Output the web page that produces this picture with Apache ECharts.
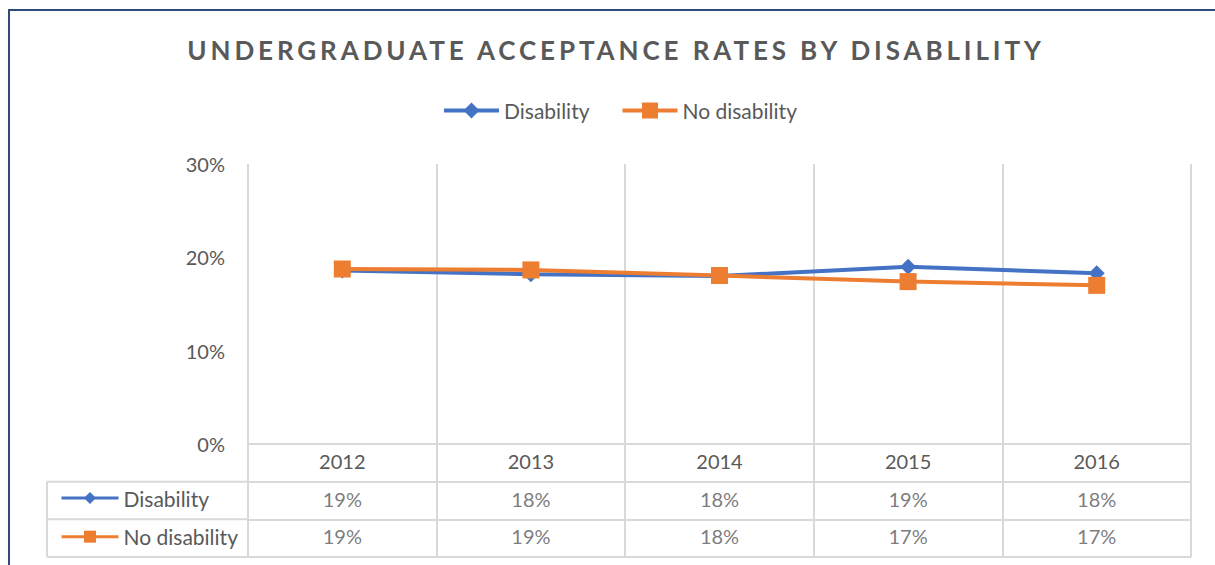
<!DOCTYPE html>
<html><head><meta charset="utf-8">
<script src="https://cdn.jsdelivr.net/npm/echarts@6/dist/echarts.min.js"></script>
<style>html,body{margin:0;padding:0;background:#fff}#chart{width:1215px;height:565px}</style>
</head><body><div id="chart"></div>
<script>
const titleText = 'UNDERGRADUATE ACCEPTANCE RATES BY DISABLILITY';
const categories = ['2012', '2013', '2014', '2015', '2016'];
const seriesNames = ['Disability', 'No disability'];
const disability = [0.186, 0.182, 0.180, 0.190, 0.183];
const noDisability = [0.1875, 0.1865, 0.1805, 0.174, 0.170];
const tableRows = ['', 'Disability', 'No disability'];

const FONT = 'Lato';
const TXT = '#595959';
const GRIDC = '#D9D9D9';
const BLUE = '#4472C4';
const ORANGE = '#ED7D31';
const gridLeft = 248, gridRight = 24, plotTop = 164, plotH = 280;
const tableTop = plotTop + plotH, tableH = 113, tableLeft = 47;
const rowH = tableH / tableRows.length;

const pct = v => Math.round(v * 100) + '%';
const values = [disability, noDisability];
const cellData = [];
seriesNames.forEach((n, s) => categories.forEach((c, i) => cellData.push([c, n, pct(values[s][i])])));

const chart = echarts.init(document.getElementById('chart'), null, {renderer: 'svg'});
const lineSt = {stroke: GRIDC, lineWidth: 2};
const graphics = [
  {type: 'rect', z: -1, shape: {x: 9, y: 10, width: 1400, height: 800}, style: {fill: 'none', stroke: '#2F4B7C', lineWidth: 2}},
  {type: 'line', shape: {x1: tableLeft, y1: tableTop + rowH, x2: gridLeft, y2: tableTop + rowH}, style: lineSt},
  {type: 'line', shape: {x1: tableLeft, y1: tableTop + 2 * rowH, x2: gridLeft, y2: tableTop + 2 * rowH}, style: lineSt},
  {type: 'line', shape: {x1: tableLeft, y1: tableTop + 3 * rowH, x2: gridLeft, y2: tableTop + 3 * rowH}, style: lineSt},
  {type: 'line', shape: {x1: tableLeft, y1: tableTop + rowH, x2: tableLeft, y2: tableTop + 3 * rowH}, style: lineSt}
];

chart.setOption({
  animation: false,
  backgroundColor: '#fff',
  textStyle: {fontFamily: FONT},
  title: {
    text: titleText, left: 611, top: 45, textAlign: 'center', textVerticalAlign: 'middle',
    textStyle: {fontFamily: FONT, fontWeight: 'bold', fontSize: 26, color: TXT}
  },
  legend: [
    {data: seriesNames, left: 437, top: 95, itemWidth: 55, itemHeight: 20, itemGap: 31, selectedMode: false,
     lineStyle: {width: 4},
     textStyle: {fontFamily: FONT, fontSize: 21, color: TXT, lineHeight: 20}},
    {data: seriesNames, orient: 'vertical', left: 55, top: tableTop + rowH + rowH / 2 - 18, itemWidth: 57, itemHeight: 15,
     itemGap: rowH - 20, selectedMode: false, lineStyle: {width: 3},
     textStyle: {fontFamily: FONT, fontSize: 21, color: TXT, lineHeight: 20}}
  ],
  grid: [
    {left: gridLeft, right: gridRight, top: plotTop, height: plotH},
    {left: gridLeft, right: gridRight, top: tableTop, height: tableH}
  ],
  xAxis: [
    {type: 'category', data: categories, boundaryGap: true, gridIndex: 0,
     axisLine: {lineStyle: {color: GRIDC, width: 2}}, axisTick: {show: false},
     axisLabel: {margin: 7, fontSize: 20, color: TXT, fontFamily: FONT, interval: 0},
     splitLine: {show: true, interval: 0, lineStyle: {color: GRIDC, width: 2}}},
    {type: 'category', data: categories, boundaryGap: true, gridIndex: 1,
     axisLine: {show: false}, axisTick: {show: false}, axisLabel: {show: false, interval: 0},
     splitLine: {show: true, interval: 0, lineStyle: {color: GRIDC, width: 2}}}
  ],
  yAxis: [
    {type: 'value', min: 0, max: 0.3, interval: 0.1, gridIndex: 0,
     axisLine: {show: false}, axisTick: {show: false}, splitLine: {show: false},
     axisLabel: {margin: 23, fontSize: 20, color: TXT, fontFamily: FONT, formatter: pct}},
    {type: 'category', data: tableRows, inverse: true, gridIndex: 1,
     axisLine: {show: false}, axisTick: {show: false}, axisLabel: {show: false},
     splitLine: {show: true, interval: 0, lineStyle: {color: GRIDC, width: 2}}}
  ],
  series: [
    {name: seriesNames[0], type: 'line', data: disability, symbol: 'diamond', symbolSize: 16,
     lineStyle: {color: BLUE, width: 4}, itemStyle: {color: BLUE}, emphasis: {disabled: true}},
    {name: seriesNames[1], type: 'line', data: noDisability, symbol: 'rect', symbolSize: 17,
     lineStyle: {color: ORANGE, width: 4}, itemStyle: {color: ORANGE}, emphasis: {disabled: true}},
    {name: 'table', type: 'scatter', xAxisIndex: 1, yAxisIndex: 1, data: cellData, symbolSize: 1,
     itemStyle: {color: 'rgba(0,0,0,0)'}, silent: true,
     label: {show: true, position: 'inside', offset: [0, -2], formatter: p => p.value[2], fontSize: 20, color: TXT, fontFamily: FONT}}
  ],
  graphic: graphics
});

function spaceTitle() {
  document.querySelectorAll('#chart svg text').forEach(t => {
    if (t.textContent === titleText) t.style.letterSpacing = '3.9px';
  });
}
spaceTitle();
chart.on('finished', spaceTitle);
</script></body></html>
